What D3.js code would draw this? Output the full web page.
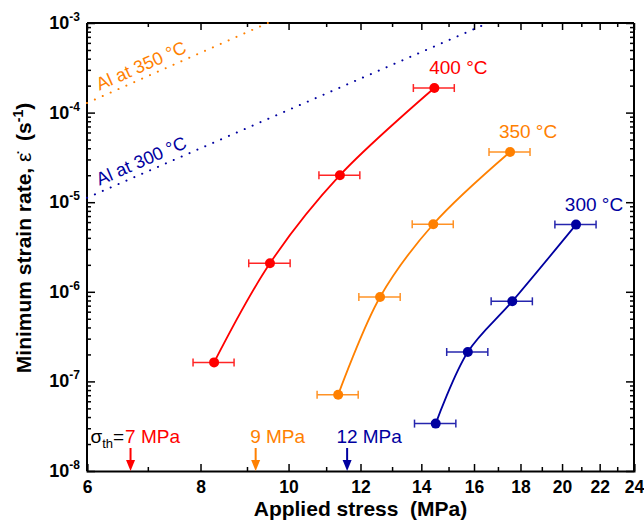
<!DOCTYPE html>
<html>
<head>
<meta charset="utf-8">
<script src="https://cdn.jsdelivr.net/npm/d3@7"></script>
<style>
  body { margin: 0; background: #fff; }
  svg { font-family: "Liberation Sans", Arial, sans-serif; }
</style>
</head>
<body>
<svg id="chart" width="644" height="523"></svg>
<script>
// Values: stress in MPa, minimum strain rate in 1/s
const temps = ['400 °C', '350 °C', '300 °C']
const colors = ['#ff0000', '#ff8000', '#0000a0']

const stress400 = [8.28, 9.54, 11.39, 14.47]
const rate400 = [1.63e-7, 2.08e-6, 2.0e-5, 1.88e-4]
const err400 = [0.43, 0.50, 0.59, 0.75]

const stress350 = [11.34, 12.61, 14.43, 17.53]
const rate350 = [7.1e-8, 8.75e-7, 5.67e-6, 3.63e-5]
const err350 = [0.59, 0.66, 0.75, 0.91]

const stress300 = [14.52, 15.75, 17.63, 20.72]
const rate300 = [3.38e-8, 2.13e-7, 7.83e-7, 5.62e-6]
const err300 = [0.76, 0.82, 0.92, 1.08]

// threshold stresses (arrows on the x axis)
const thStress = [6.7, 9.2, 11.6]
const thLabels = ['7 MPa', '9 MPa', '12 MPa']

// pure Al reference lines (end points)
const alLabels = ['Al at 350 °C', 'Al at 300 °C']
const alColors = ['#ff8000', '#0000a0']
const alStress = [[6, 9.49], [6, 16.58]]
const alRate = [[1.28e-4, 1e-3], [1.12e-5, 1e-3]]

const xTicks = [6, 8, 10, 12, 14, 16, 18, 20, 22, 24]
const xMinor = [7, 9, 11, 13, 15, 17, 19, 21, 23]
const yTicks = [1e-8, 1e-7, 1e-6, 1e-5, 1e-4, 1e-3]

const stressSets = [stress400, stress350, stress300]
const rateSets = [rate400, rate350, rate300]
const errSets = [err400, err350, err300]

// margin convention
const margin = { top: 23, right: 10, bottom: 52, left: 87 }
const width = 644 - margin.left - margin.right
const height = 523 - margin.top - margin.bottom

const x = d3.scaleLog().domain([6, 24]).range([0, width])
const y = d3.scaleLog().domain([1e-8, 1e-3]).range([height, 0])

const svg = d3.select('#chart')
const g = svg.append('g')
  .attr('transform', `translate(${margin.left}, ${margin.top})`)

// minor y ticks: 2..9 in every decade
const yMinor = []
for (let e = -8; e < -3; e++) {
  for (let m = 2; m <= 9; m++) yMinor.push(m * Math.pow(10, e))
}

function styleAxis(sel) {
  sel.select('.domain').attr('stroke-width', 2)
  sel.selectAll('.tick line').attr('stroke-width', 1.5)
}

// minor ticks first, no domain
g.append('g').attr('transform', `translate(0, ${height})`)
  .call(d3.axisBottom(x).tickValues(xMinor).tickSize(-4).tickFormat(''))
  .call(styleAxis).select('.domain').remove()
g.append('g')
  .call(d3.axisTop(x).tickValues(xMinor).tickSize(-4).tickFormat(''))
  .call(styleAxis).select('.domain').remove()
g.append('g')
  .call(d3.axisLeft(y).tickValues(yMinor).tickSize(-4).tickFormat(''))
  .call(styleAxis).select('.domain').remove()
g.append('g').attr('transform', `translate(${width}, 0)`)
  .call(d3.axisRight(y).tickValues(yMinor).tickSize(-4).tickFormat(''))
  .call(styleAxis).select('.domain').remove()

// major ticks and the frame
const xAxis = g.append('g').attr('transform', `translate(0, ${height})`)
  .call(d3.axisBottom(x).tickValues(xTicks).tickSize(-7).tickPadding(10).tickFormat(d3.format('d')))
  .call(styleAxis)
xAxis.selectAll('text')
  .attr('font-size', 17.5).attr('font-weight', 'bold').attr('fill', '#000')
  .attr('font-family', '"Liberation Sans", Arial, sans-serif')

g.append('g')
  .call(d3.axisTop(x).tickValues(xTicks).tickSize(-7).tickFormat(''))
  .call(styleAxis)
  .select('.domain').attr('d', `M0,0H${width}`)

const yAxis = g.append('g')
  .call(d3.axisLeft(y).tickValues(yTicks).tickSize(-8).tickFormat(''))
  .call(styleAxis)
yAxis.select('.domain').attr('d', `M0,${height}V0`)

g.append('g').attr('transform', `translate(${width}, 0)`)
  .call(d3.axisRight(y).tickValues(yTicks).tickSize(-8).tickFormat(''))
  .call(styleAxis)
  .select('.domain').attr('d', `M0,${height}V0`)

// y tick labels as 10 with a superscript exponent
yTicks.forEach(v => {
  const t = g.append('text')
    .attr('x', -7)
    .attr('y', y(v) + 6)
    .attr('text-anchor', 'end')
    .attr('font-size', 18)
    .attr('font-weight', 'bold')
  t.append('tspan').text('10')
  t.append('tspan')
    .attr('dy', -8)
    .attr('font-size', 12)
    .text(String(Math.round(Math.log10(v))))
})

// axis titles
svg.append('text')
  .attr('x', margin.left + width / 2)
  .attr('y', 516)
  .attr('text-anchor', 'middle')
  .attr('font-size', 21)
  .attr('font-weight', 'bold')
  .style('white-space', 'pre')
  .text('Applied stress  (MPa)')

const yTitle = svg.append('text')
  .attr('transform', 'translate(31, 238) rotate(-90)')
  .attr('text-anchor', 'middle')
  .attr('font-size', 21)
  .attr('font-weight', 'bold')
  .style('white-space', 'pre')
yTitle.append('tspan').text('Minimum strain rate, ')
yTitle.append('tspan').attr('font-weight', 'normal').text('ε̇')
yTitle.append('tspan').text('  (s')
yTitle.append('tspan').attr('dy', -8).attr('font-size', 14).text('-1')
yTitle.append('tspan').attr('dy', 8).text(')')

// pure Al dotted lines with rotated labels
alLabels.forEach((label, i) => {
  const p0 = [x(alStress[i][0]), y(alRate[i][0])]
  const p1 = [x(alStress[i][1]), y(alRate[i][1])]
  g.append('line')
    .attr('x1', p0[0]).attr('y1', p0[1])
    .attr('x2', p1[0]).attr('y2', p1[1])
    .attr('stroke', alColors[i])
    .attr('stroke-width', 2)
    .attr('stroke-linecap', 'round')
    .attr('stroke-dasharray', '0.1,8.5')
  const angle = Math.atan2(p1[1] - p0[1], p1[0] - p0[0]) * 180 / Math.PI
  const t = 15 / (p1[0] - p0[0])
  const px = p0[0] + t * (p1[0] - p0[0])
  const py = p0[1] + t * (p1[1] - p0[1])
  g.append('text')
    .attr('transform', `translate(${px}, ${py}) rotate(${angle})`)
    .attr('y', -6)
    .attr('font-size', 18)
    .attr('fill', alColors[i])
    .text(label)
})

// data series: smooth lines, error bars, markers, labels
const line = d3.line()
  .x(d => x(d[0]))
  .y(d => y(d[1]))
  .curve(d3.curveCatmullRom.alpha(0.5))

temps.forEach((temp, i) => {
  const pts = stressSets[i].map((s, j) => [s, rateSets[i][j], errSets[i][j]])
  const col = colors[i]
  const sg = g.append('g')

  sg.append('path')
    .datum(pts)
    .attr('d', line)
    .attr('fill', 'none')
    .attr('stroke', col)
    .attr('stroke-width', 1.8)

  const eb = sg.selectAll('.err').data(pts).enter().append('g')
    .attr('stroke', col).attr('stroke-width', 1.5).attr('opacity', 0.85)
  eb.append('line')
    .attr('x1', d => x(d[0] - d[2])).attr('x2', d => x(d[0] + d[2]))
    .attr('y1', d => y(d[1])).attr('y2', d => y(d[1]))
  eb.append('line')
    .attr('x1', d => x(d[0] - d[2])).attr('x2', d => x(d[0] - d[2]))
    .attr('y1', d => y(d[1]) - 4).attr('y2', d => y(d[1]) + 4)
  eb.append('line')
    .attr('x1', d => x(d[0] + d[2])).attr('x2', d => x(d[0] + d[2]))
    .attr('y1', d => y(d[1]) - 4).attr('y2', d => y(d[1]) + 4)

  sg.selectAll('circle').data(pts).enter().append('circle')
    .attr('cx', d => x(d[0]))
    .attr('cy', d => y(d[1]))
    .attr('r', 5)
    .attr('fill', col)

  const last = pts[pts.length - 1]
  sg.append('text')
    .attr('x', x(last[0]) + (i === 0 ? 24 : 18))
    .attr('y', y(last[1]) - 14)
    .attr('text-anchor', 'middle')
    .attr('font-size', 19)
    .attr('fill', col)
    .text(temp)
})

// threshold arrows on the x axis
thStress.forEach((v, i) => {
  const ax = x(v)
  const col = colors[i]
  g.append('line')
    .attr('x1', ax).attr('x2', ax)
    .attr('y1', height - 23).attr('y2', height - 8)
    .attr('stroke', col).attr('stroke-width', 2)
  g.append('path')
    .attr('d', `M${ax - 4.5},${height - 11}L${ax + 4.5},${height - 11}L${ax},${height}Z`)
    .attr('fill', col)
  const lbl = g.append('text')
    .attr('x', ax + 22)
    .attr('y', height - 28)
    .attr('text-anchor', 'middle')
    .attr('font-size', 19)
    .attr('fill', col)
    .text(thLabels[i])
  if (i === 0) {
    const startX = ax + 22 - lbl.node().getComputedTextLength() / 2 - 1
    const pre = g.append('text')
      .attr('x', startX)
      .attr('y', height - 28)
      .attr('text-anchor', 'end')
      .attr('font-size', 19)
      .attr('fill', '#000')
    pre.append('tspan').text('σ')
    pre.append('tspan').attr('dy', 5).attr('font-size', 13).text('th')
    pre.append('tspan').attr('dy', -5).text('=')
  }
})
</script>
</body>
</html>
